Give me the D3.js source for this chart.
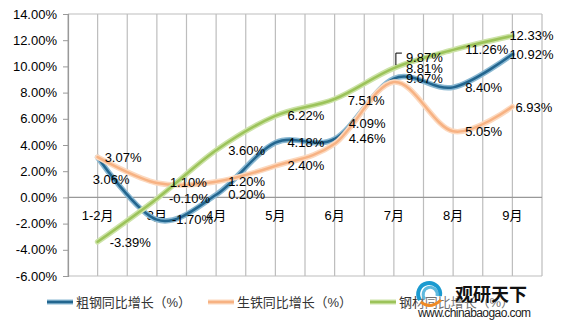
<!DOCTYPE html>
<html><head><meta charset="utf-8">
<script src="https://cdn.jsdelivr.net/npm/d3@7"></script>
<style>
html,body{margin:0;padding:0;background:#fff;}
svg{display:block;font-family:"Liberation Sans",Arial,"Noto Sans CJK SC",sans-serif;}
</style></head>
<body>
<svg id="c" width="566" height="326"></svg>
<script>
const categories = ["1-2月","3月","4月","5月","6月","7月","8月","9月"];
const crudeSteel = [3.06,-1.70,0.20,4.18,4.46,9.07,8.40,10.92];
const pigIron    = [3.07,1.10,1.20,2.40,4.09,8.81,5.05,6.93];
const steelProd  = [-3.39,-0.10,3.60,6.22,7.51,9.87,11.26,12.33];
const seriesNames = ["粗钢同比增长（%）","生铁同比增长（%）","钢材同比增长（%）"];
const yTicks = [-6,-4,-2,0,2,4,6,8,10,12,14];

const colors = ["#23668f","#f7b283","#9cc35a"];
const glow = ["#8ab8d2","#fcd9bf","#cde3a8"];
// label offset overrides [series][index] -> [dx, dy]
const labelAdj = {
  "0-0":[-5,22], "1-0":[7,0], "2-0":[12,1],
  "1-4":[14,-20], "0-4":[14,0], "2-4":[13,1],
  "2-5":[12,-11], "1-5":[12,-13], "0-5":[12,0],
  "0-7":[-3,0], "2-7":[-3,0], "1-7":[3,1],
  "0-1":[15,0], "1-1":[13,0], "2-1":[12,0]
};

const svg = d3.select("#c");
const L=68,R=542,T=14,B=276;
const x = d3.scalePoint().domain(categories).range([L,R]).padding(0.5);
const y = d3.scaleLinear().domain([-6,14]).range([B,T]);
const step = x.step();

// vertical gridlines
const gl = d3.range(0,17).map(k=>L+k*step/2);
svg.append("g").selectAll("line").data(gl).join("line")
  .attr("x1",d=>d).attr("x2",d=>d).attr("y1",T).attr("y2",B)
  .attr("stroke","#bdbdbd").attr("stroke-width",1.2);
// border
svg.append("line").attr("x1",L).attr("x2",R).attr("y1",T).attr("y2",T).attr("stroke","#bdbdbd").attr("stroke-width",1.2);
svg.append("line").attr("x1",L).attr("x2",R).attr("y1",B).attr("y2",B).attr("stroke","#bdbdbd").attr("stroke-width",1.2);

// y axis
const ya = svg.append("g").attr("transform",`translate(${L},0)`)
  .call(d3.axisLeft(y).tickValues(yTicks).tickFormat(d=>d.toFixed(2)+"%").tickSize(5).tickPadding(6));
ya.select(".domain").attr("stroke","#999").attr("stroke-width",1.2);
ya.selectAll(".tick line").attr("stroke","#999");
ya.selectAll("text").attr("font-size",13).attr("fill","#000").style("font-family","inherit");

// zero line
svg.append("line").attr("x1",L).attr("x2",R).attr("y1",y(0)).attr("y2",y(0)).attr("stroke","#999").attr("stroke-width",1.2);

// x labels
svg.append("g").selectAll("text").data(categories).join("text")
  .attr("x",d=>x(d)).attr("y",y(0)+18).attr("text-anchor","middle")
  .attr("dominant-baseline","central").attr("font-size",13).text(d=>d);

const allSeries = [crudeSteel,pigIron,steelProd];
const line = d3.line().x((d,i)=>x(categories[i])).y(d=>y(d)).curve(d3.curveCardinal);
allSeries.forEach((s,si)=>{
  svg.append("path").attr("d",line(s)).attr("fill","none").attr("stroke",glow[si]).attr("stroke-width",5.5).attr("stroke-linecap","round");
  svg.append("path").attr("d",line(s)).attr("fill","none").attr("stroke",colors[si]).attr("stroke-width",2.5).attr("stroke-linecap","round");
});

// labels
allSeries.forEach((s,si)=>{
  s.forEach((v,i)=>{
    const a = labelAdj[si+"-"+i] || [12,0];
    svg.append("text").attr("x",x(categories[i])+a[0]).attr("y",y(v)+a[1])
      .attr("dominant-baseline","central").attr("font-size",13).attr("fill","#000")
      .text(v.toFixed(2)+"%");
  });
});
// leader line for 9.87%
{
  const px = x(categories[5]), py = y(steelProd[5]);
  svg.append("path").attr("d",`M${px+2},${py-3}V${py-15}H${px+8}`).attr("fill","none").attr("stroke","#000").attr("stroke-width",1);
}

// legend
const lx=[47,208,370];
seriesNames.forEach((n,i)=>{
  svg.append("line").attr("x1",lx[i]).attr("x2",lx[i]+26).attr("y1",302).attr("y2",302)
    .attr("stroke",glow[i]).attr("stroke-width",5);
  svg.append("line").attr("x1",lx[i]).attr("x2",lx[i]+26).attr("y1",302).attr("y2",302)
    .attr("stroke",colors[i]).attr("stroke-width",2.5);
  svg.append("text").attr("x",lx[i]+29).attr("y",302).attr("dominant-baseline","central")
    .attr("font-size",13).attr("fill","#333").attr("textLength",115).text(n);
});

// watermark
const wm = svg.append("g");
wm.append("rect").attr("x",416).attr("y",285).attr("width",117).attr("height",36).attr("fill","#fff").attr("opacity",0.3);
wm.append("path").attr("d","M420,300 A11,11 0 1,1 440,296").attr("fill","none").attr("stroke","#1b9ad0").attr("stroke-width",4);
wm.append("path").attr("d","M425,299 A7,7 0 1,1 437,296").attr("fill","none").attr("stroke","#5fb9de").attr("stroke-width",3);
wm.append("path").attr("d","M421,302 Q430,310 441,300").attr("fill","none").attr("stroke","#f08a24").attr("stroke-width",3);
wm.append("text").attr("x",455).attr("y",295).attr("dominant-baseline","central")
  .attr("font-size",18).attr("font-weight","bold").attr("fill","#111").text("观研天下");
wm.append("text").attr("x",418).attr("y",313).attr("dominant-baseline","central")
  .attr("font-size",12).attr("fill","#222").attr("textLength",113).text("www.chinabaogao.com");
</script>
</body></html>
